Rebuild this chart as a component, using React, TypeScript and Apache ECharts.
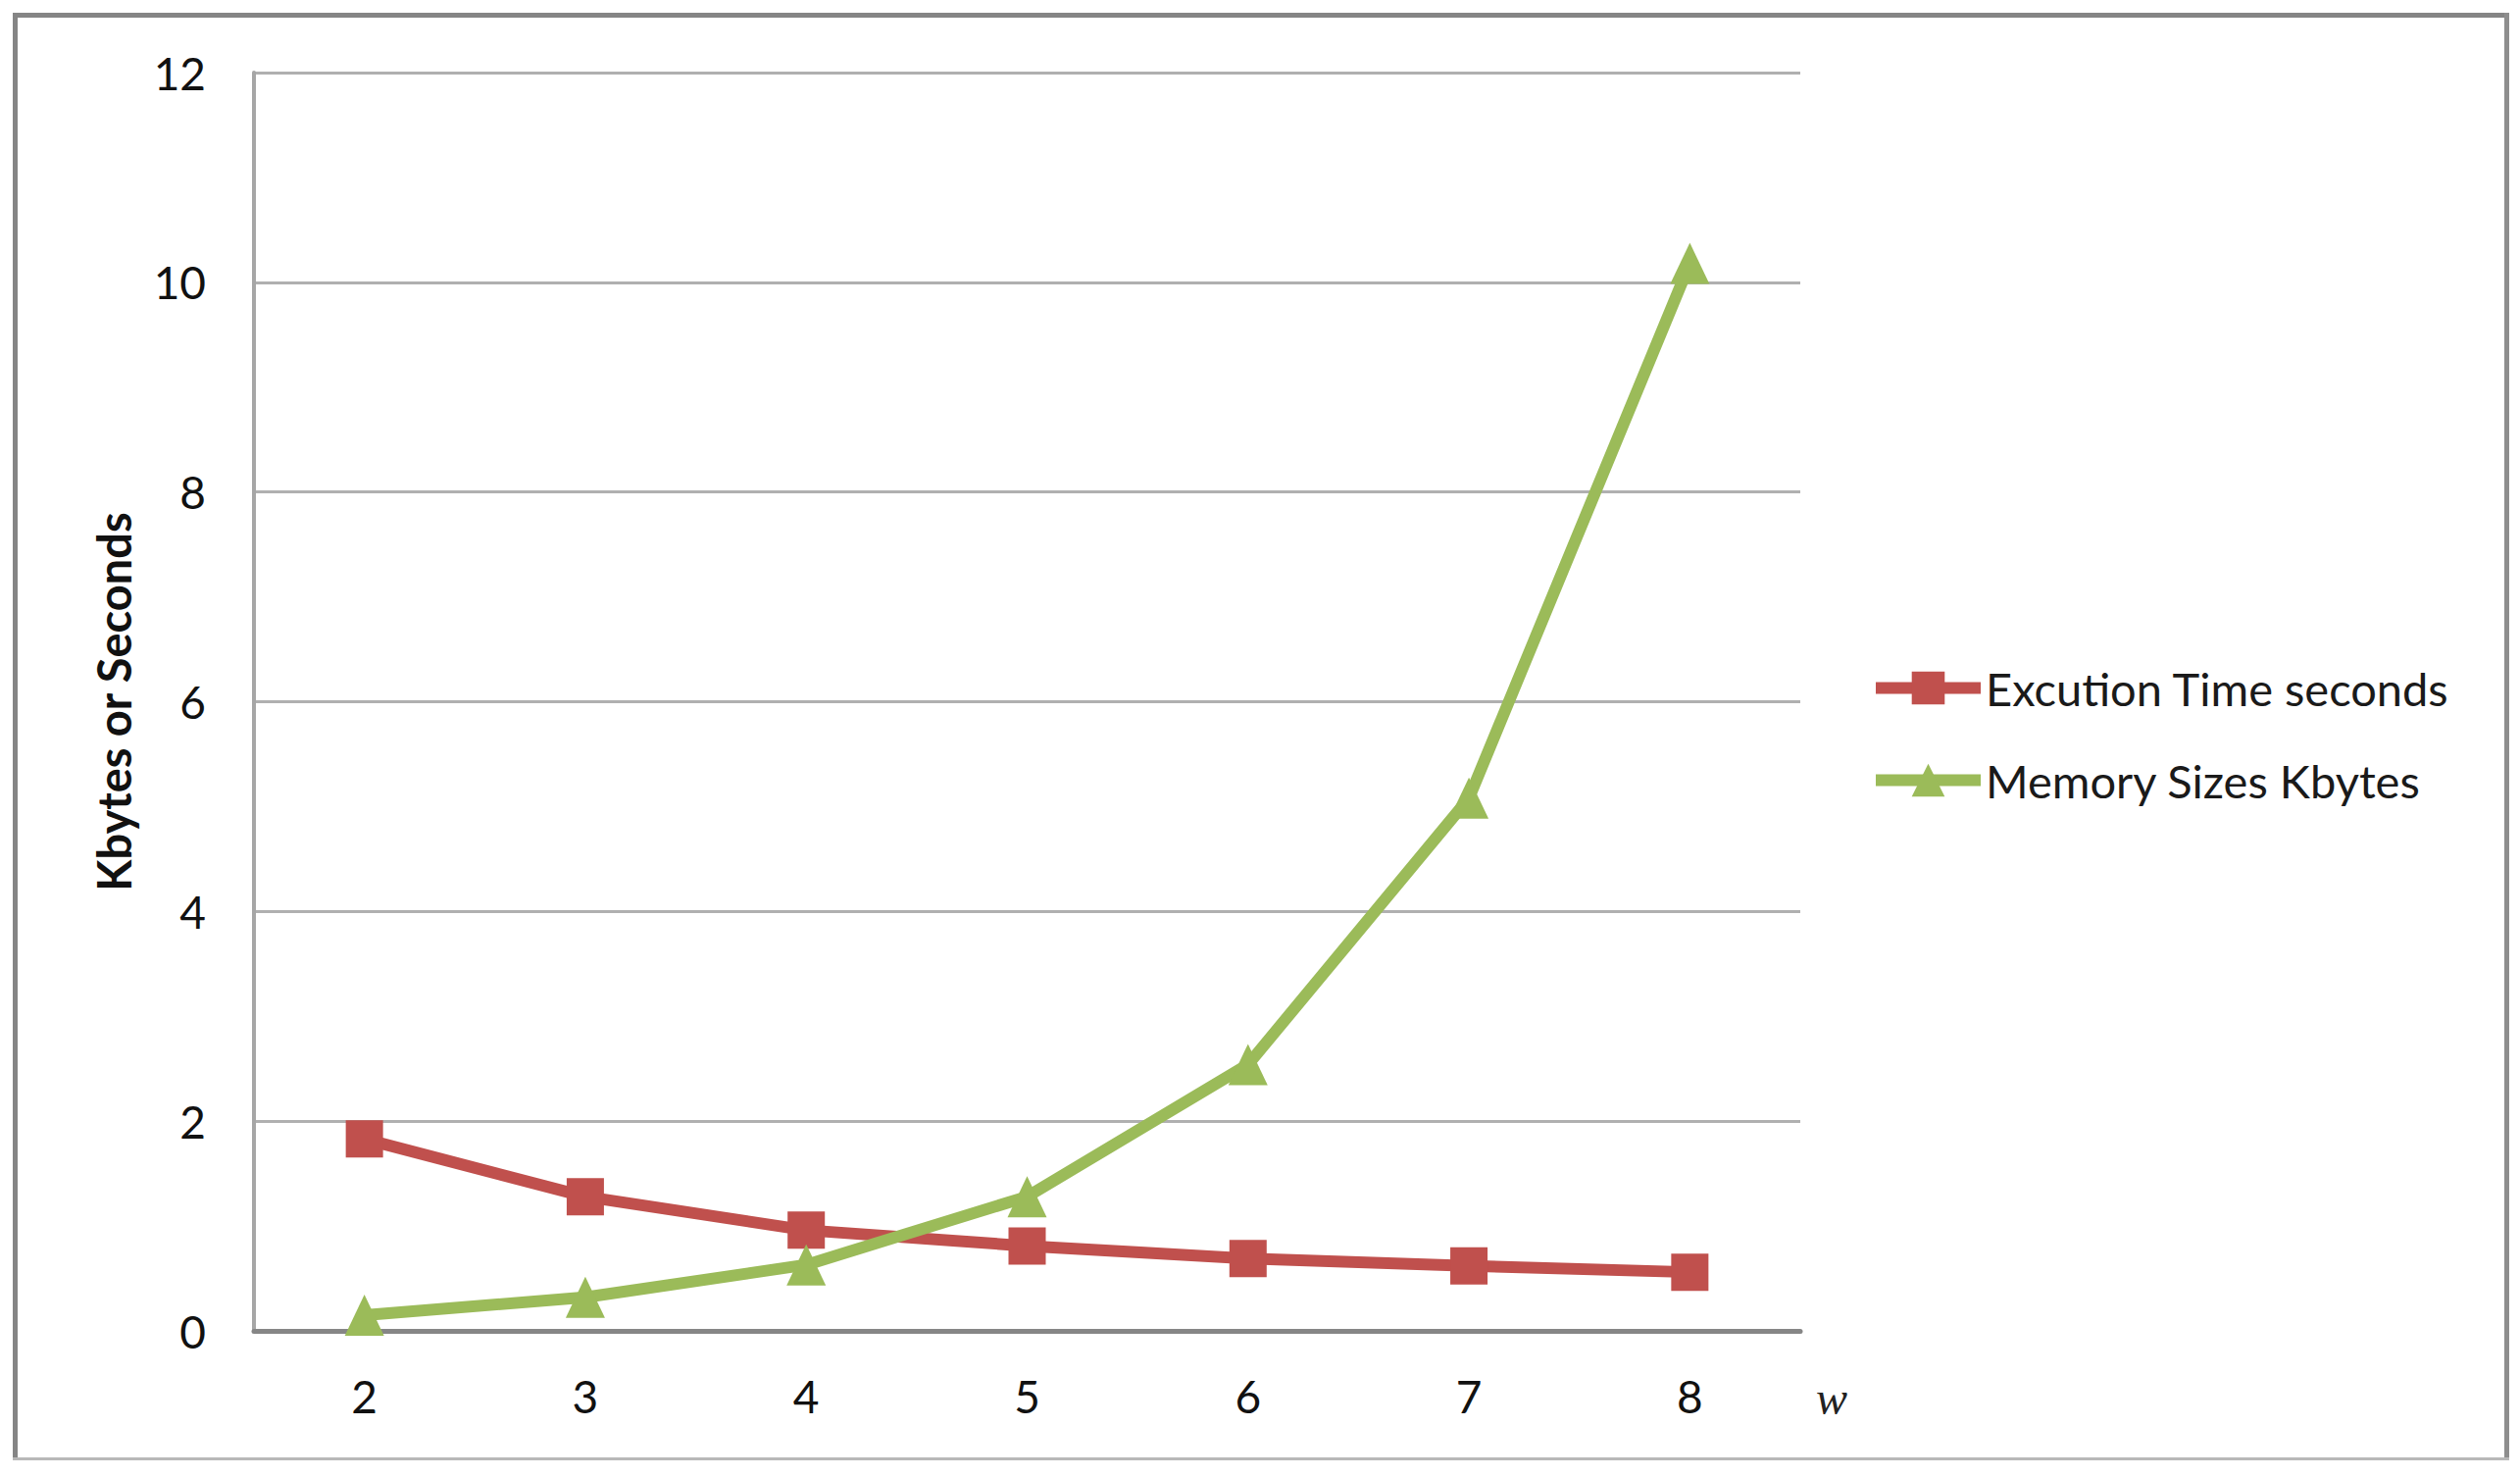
import React, { useEffect, useRef } from "react";
import * as echarts from "echarts";

const categories = ["2", "3", "4", "5", "6", "7", "8"];
const executionTime = [1.83, 1.28, 0.96, 0.81, 0.69, 0.62, 0.56];
const memorySize = [0.15, 0.32, 0.63, 1.28, 2.54, 5.08, 10.18];
const yTicks = { min: 0, max: 12, interval: 2 };
const seriesNames = ["Excution Time seconds", "Memory Sizes Kbytes"];
const yTitle = "Kbytes or Seconds";
const xTitle = "w";

const FONT = "Lato, 'Open Sans', sans-serif";

export default function App() {
  const ref = useRef<HTMLDivElement>(null);
  useEffect(() => {
    if (!ref.current) return;
    const chart = echarts.init(ref.current, undefined, { renderer: "svg" });
    chart.setOption({
      animation: false,
      backgroundColor: "#ffffff",
      textStyle: { fontFamily: FONT },
      grid: { left: 259, right: 734, top: 74, bottom: 149, containLabel: false },
      legend: {
        orient: "vertical",
        left: 1902,
        top: 673,
        itemWidth: 107,
        itemHeight: 42,
        itemGap: 47,
        data: seriesNames,
        lineStyle: { width: 12 },
        textStyle: { fontFamily: FONT, fontSize: 47, color: "#1a1a1a", lineHeight: 47 },
      },
      xAxis: {
        type: "category",
        data: categories,
        boundaryGap: true,
        axisTick: { show: false },
        axisLine: { show: true, lineStyle: { color: "#868686", width: 5 } },
        axisLabel: { fontFamily: FONT, fontSize: 46, color: "#111", margin: 43 },
      },
      yAxis: {
        type: "value",
        min: yTicks.min,
        max: yTicks.max,
        interval: yTicks.interval,
        name: yTitle,
        nameLocation: "middle",
        nameGap: 120,
        nameTextStyle: { fontFamily: FONT, fontSize: 47, fontWeight: "bold", color: "#111" },
        axisTick: { show: false },
        axisLine: { show: true, lineStyle: { color: "#a6a6a6", width: 4 } },
        axisLabel: { fontFamily: FONT, fontSize: 46, color: "#111", margin: 49 },
        splitLine: { show: true, lineStyle: { color: "#b0b0b0", width: 3 } },
      },
      series: [
        {
          name: seriesNames[0],
          type: "line",
          data: executionTime,
          symbol: "rect",
          symbolSize: 38,
          lineStyle: { color: "#C0504D", width: 12 },
          itemStyle: { color: "#C0504D" },
        },
        {
          name: seriesNames[1],
          type: "line",
          data: memorySize,
          symbol: "triangle",
          symbolSize: [40, 42],
          lineStyle: { color: "#9BBB59", width: 12 },
          itemStyle: { color: "#9BBB59" },
        },
      ],
      graphic: [
        {
          type: "text",
          x: 1868,
          y: 1425,
          style: {
            text: xTitle,
            font: "italic 48px 'Liberation Serif', 'DejaVu Serif', serif",
            fill: "#222",
            textAlign: "center",
            textVerticalAlign: "middle",
          },
        },
        { type: "line", shape: { x1: 13, y1: 15.5, x2: 2559, y2: 15.5 }, style: { stroke: "#858585", lineWidth: 5 } },
        { type: "line", shape: { x1: 15.5, y1: 13, x2: 15.5, y2: 1489 }, style: { stroke: "#858585", lineWidth: 5 } },
        { type: "line", shape: { x1: 2556.5, y1: 13, x2: 2556.5, y2: 1489 }, style: { stroke: "#8e8e8e", lineWidth: 5 } },
        { type: "line", shape: { x1: 13, y1: 1487.5, x2: 2559, y2: 1487.5 }, style: { stroke: "#b8b8b8", lineWidth: 3 } },
      ],
    });
    return () => chart.dispose();
  }, []);
  return (
    <div
      ref={ref}
      style={{ position: "absolute", left: 0, top: 0, width: 2570, height: 1506, background: "#fff" }}
    />
  );
}
